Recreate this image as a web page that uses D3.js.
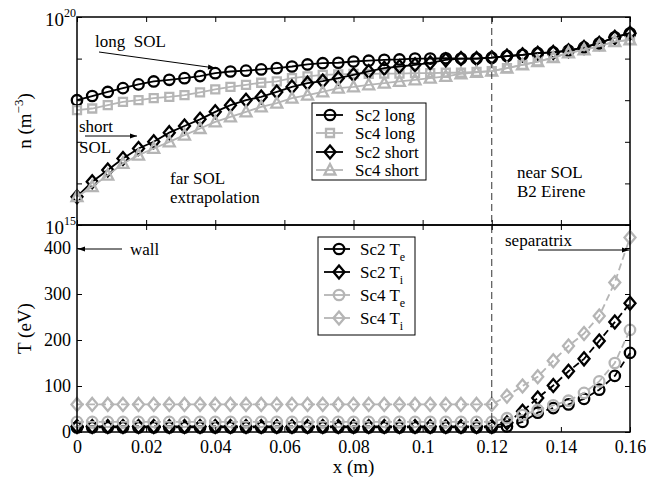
<!DOCTYPE html>
<html>
<head>
<meta charset="utf-8">
<script src="https://cdn.jsdelivr.net/npm/d3@7"></script>
<style>
  html, body { margin: 0; padding: 0; background: #fff; }
  svg { display: block; font-family: "Liberation Serif", "Times New Roman", serif; }
</style>
</head>
<body>
<div id="chart"></div>
<script>
// ── data ──────────────────────────────────────────────────────────────────
const xPos = [0, 0.0044, 0.0089, 0.0133, 0.0178, 0.0222, 0.0267, 0.0311, 0.0356, 0.04,
  0.0444, 0.0489, 0.0533, 0.0578, 0.0622, 0.0667, 0.0711, 0.0756, 0.08, 0.0844,
  0.0889, 0.0933, 0.0978, 0.1022, 0.1067, 0.1111, 0.1156, 0.12, 0.1244, 0.1289,
  0.1333, 0.1378, 0.1422, 0.1467, 0.1511, 0.1556, 0.16];

// density n (m^-3)
const sc2Long = [1.0e18, 1.26e18, 1.58e18, 1.95e18, 2.4e18, 2.82e18, 3.09e18, 3.39e18, 3.8e18, 4.47e18,
  4.9e18, 5.13e18, 5.5e18, 5.89e18, 6.46e18, 7.24e18, 7.76e18, 7.94e18, 8.51e18, 8.91e18,
  9.33e18, 9.55e18, 1.0e19, 1.0e19, 1.02e19, 1.0e19, 1.0e19, 1.05e19, 1.15e19, 1.23e19,
  1.35e19, 1.41e19, 1.55e19, 1.86e19, 2.34e19, 3.24e19, 4.07e19];
const sc4Long = [5.75e17, 6.31e17, 7.59e17, 9.12e17, 1.0e18, 1.12e18, 1.2e18, 1.32e18, 1.55e18, 1.82e18,
  2.09e18, 2.34e18, 2.63e18, 2.82e18, 3.39e18, 3.72e18, 4.07e18, 4.17e18, 4.27e18, 4.27e18,
  4.37e18, 4.37e18, 4.47e18, 4.47e18, 4.57e18, 4.57e18, 4.79e18, 5.01e18, 5.89e18, 7.08e18,
  8.51e18, 1.05e19, 1.38e19, 1.62e19, 2.0e19, 2.57e19, 2.82e19];
const sc2Short = [4.79e15, 1.1e16, 2.09e16, 3.98e16, 6.92e16, 1.0e17, 1.66e17, 2.4e17, 3.47e17, 5.25e17,
  7.59e17, 1.0e18, 1.2e18, 1.58e18, 2.09e18, 2.57e18, 2.88e18, 3.39e18, 4.07e18, 4.9e18,
  5.89e18, 6.46e18, 7.08e18, 7.94e18, 9.33e18, 1.0e19, 1.0e19, 1.05e19, 1.15e19, 1.23e19,
  1.35e19, 1.41e19, 1.55e19, 1.86e19, 2.34e19, 3.24e19, 4.07e19];
const sc4Short = [4.79e15, 8.32e15, 1.58e16, 3.02e16, 4.79e16, 6.92e16, 1.0e17, 1.45e17, 2.09e17, 3.02e17,
  3.98e17, 5.25e17, 6.92e17, 8.51e17, 1.12e18, 1.32e18, 1.58e18, 1.95e18, 2.09e18, 2.34e18,
  2.57e18, 2.82e18, 3.09e18, 3.39e18, 3.72e18, 4.27e18, 4.68e18, 5.01e18, 5.89e18, 7.08e18,
  8.51e18, 1.05e19, 1.38e19, 1.62e19, 2.0e19, 2.57e19, 2.82e19];

// temperature T (eV)
const sc2Te = [10, 10, 10, 10, 10, 10, 10, 10, 10, 10, 10, 10, 10, 10, 10, 10, 10, 10, 10, 10,
  10, 10, 10, 10, 10, 10, 10, 10, 12, 22, 42, 52, 60, 72, 92, 122, 172];
const sc2Ti = [12, 12, 12, 12, 12, 12, 12, 12, 12, 12, 12, 12, 12, 12, 12, 12, 12, 12, 12, 12,
  12, 12, 12, 12, 12, 12, 12, 12, 20, 45, 74, 101, 132, 159, 198, 239, 280];
const sc4Te = [22, 22, 22, 22, 22, 22, 22, 22, 22, 22, 22, 22, 22, 22, 22, 22, 22, 22, 22, 22,
  22, 22, 22, 22, 22, 22, 22, 22, 30, 37, 48, 58, 68, 85, 110, 150, 222];
const sc4Ti = [60, 60, 60, 60, 60, 60, 60, 60, 60, 60, 60, 60, 60, 60, 60, 60, 60, 60, 60, 60,
  60, 60, 60, 60, 60, 60, 60, 60, 78, 100, 120, 155, 187, 214, 252, 325, 423];

const xTicks = [0, 0.02, 0.04, 0.06, 0.08, 0.1, 0.12, 0.14, 0.16];
const xTickLabels = ['0', '0.02', '0.04', '0.06', '0.08', '0.1', '0.12', '0.14', '0.16'];
const nTicks = [1e15, 1e16, 1e17, 1e18, 1e19, 1e20];
const tTicks = [0, 100, 200, 300, 400];
const separatrixX = 0.12;

// ── setup ─────────────────────────────────────────────────────────────────
const W = 646, H = 481;
const BLACK = '#000', GRAY = '#b5b5b5';
const L = 77, R = 630;
const topY0 = 17, topY1 = 225, botY0 = 225, botY1 = 432;

const svg = d3.select('#chart').append('svg').attr('width', W).attr('height', H);

const x  = d3.scaleLinear().domain([0, 0.16]).range([L, R]);
const yN = d3.scaleLog().domain([1e15, 1e20]).range([topY1, topY0]);
const yT = d3.scaleLinear().domain([0, 450]).range([botY1, botY0]);

// marker shapes
function marker(sel, type) {
  if (type === 'circle') return sel.append('circle').attr('r', 5.2);
  const p = {
    square:   'M-4,-4H4V4H-4Z',
    diamond:  'M0,-6.5L5.5,0L0,6.5L-5.5,0Z',
    triangle: 'M0,-6L5.5,4.5H-5.5Z'
  }[type];
  return sel.append('path').attr('d', p);
}

function drawSeries(g, ys, yScale, color, type, dash) {
  const line = d3.line().x((d, i) => x(xPos[i])).y(d => yScale(d));
  g.append('path')
    .datum(ys)
    .attr('d', line)
    .attr('fill', 'none')
    .attr('stroke', color)
    .attr('stroke-width', 1.8)
    .attr('stroke-dasharray', dash || null);
  ys.forEach((v, i) => {
    const m = g.append('g').attr('transform', `translate(${x(xPos[i])},${yScale(v)})`);
    marker(m, type).attr('fill', 'none').attr('stroke', color).attr('stroke-width', 2.3);
  });
}

function frame(y0, y1) {
  svg.append('rect')
    .attr('x', L).attr('y', y0).attr('width', R - L).attr('height', y1 - y0)
    .attr('fill', 'none').attr('stroke', BLACK).attr('stroke-width', 1.5);
}

function axes(yScale, yTicks, y0, y1, showX) {
  const axB = svg.append('g').attr('transform', `translate(0,${y1})`)
    .call(d3.axisBottom(x).tickValues(xTicks).tickSize(-5).tickPadding(8)
      .tickFormat((d, i) => showX ? xTickLabels[i] : ''));
  const axT = svg.append('g').attr('transform', `translate(0,${y0})`)
    .call(d3.axisTop(x).tickValues(xTicks).tickSize(-5).tickFormat(''));
  const axL = svg.append('g').attr('transform', `translate(${L},0)`)
    .call(d3.axisLeft(yScale).tickValues(yTicks).tickSize(-5).tickPadding(6)
      .tickFormat(d => showX ? d : ''));
  const axR = svg.append('g').attr('transform', `translate(${R},0)`)
    .call(d3.axisRight(yScale).tickValues(yTicks).tickSize(-5).tickFormat(''));
  [axB, axT, axL, axR].forEach(a => {
    a.select('.domain').remove();
    a.selectAll('line').attr('stroke', BLACK).attr('stroke-width', 1);
    a.selectAll('text').attr('font-family', 'Liberation Serif').attr('font-size', 18).attr('fill', BLACK);
  });
  axB.selectAll('text').attr('dy', '0.71em');
}

// arrowhead
svg.append('defs').append('marker')
  .attr('id', 'arr').attr('viewBox', '0 0 10 10').attr('refX', 10).attr('refY', 5)
  .attr('markerWidth', 9).attr('markerHeight', 7).attr('markerUnits', 'userSpaceOnUse')
  .attr('orient', 'auto')
  .append('path').attr('d', 'M0,1.5L10,5L0,8.5Z').attr('fill', BLACK);

function arrow(x1, y1, x2, y2) {
  svg.append('line').attr('x1', x1).attr('y1', y1).attr('x2', x2).attr('y2', y2)
    .attr('stroke', BLACK).attr('stroke-width', 1).attr('marker-end', 'url(#arr)');
}

function label(tx, ty, str, size) {
  return svg.append('text').attr('x', tx).attr('y', ty)
    .attr('font-size', size || 17).attr('fill', BLACK).text(str);
}

// ══════════════════════════════════════════════════════════════════════════
//  top panel: density
// ══════════════════════════════════════════════════════════════════════════
const gTop = svg.append('g');
drawSeries(gTop, sc2Long, yN, BLACK, 'circle');
drawSeries(gTop, sc4Long, yN, GRAY, 'square');
drawSeries(gTop, sc2Short, yN, BLACK, 'diamond');
drawSeries(gTop, sc4Short, yN, GRAY, 'triangle');

// ══════════════════════════════════════════════════════════════════════════
//  bottom panel: temperature
// ══════════════════════════════════════════════════════════════════════════
const gBot = svg.append('g');
drawSeries(gBot, sc2Te, yT, BLACK, 'circle', '7,4');
drawSeries(gBot, sc2Ti, yT, BLACK, 'diamond', '7,4');
drawSeries(gBot, sc4Te, yT, GRAY, 'circle', '7,4');
drawSeries(gBot, sc4Ti, yT, GRAY, 'diamond', '7,4');

// separatrix line across both panels
svg.append('line')
  .attr('x1', x(separatrixX)).attr('x2', x(separatrixX))
  .attr('y1', topY0).attr('y2', botY1)
  .attr('stroke', '#333').attr('stroke-width', 1).attr('stroke-dasharray', '7,4');

frame(topY0, topY1);
frame(botY0, botY1);
axes(yN, nTicks, topY0, topY1, false);
axes(yT, tTicks, botY0, botY1, true);

// log labels 10^20, 10^15
[[1e20, '20'], [1e15, '15']].forEach(([v, e]) => {
  const t = svg.append('text').attr('x', 76).attr('y', yN(v) + 9)
    .attr('text-anchor', 'end').attr('font-size', 19).attr('fill', BLACK);
  t.append('tspan').text('10');
  t.append('tspan').attr('font-size', 12).attr('dy', -9).text(e);
});

// axis titles
const yl1 = svg.append('text').attr('transform', `translate(31,${(topY0 + topY1) / 2}) rotate(-90)`)
  .attr('text-anchor', 'middle').attr('font-size', 19).attr('fill', BLACK);
yl1.append('tspan').text('n (m');
yl1.append('tspan').attr('font-size', 13).attr('dy', -8).text('\u22123');
yl1.append('tspan').attr('dy', 8).text(')');

svg.append('text').attr('transform', `translate(31,${(botY0 + botY1) / 2}) rotate(-90)`)
  .attr('text-anchor', 'middle').attr('font-size', 19).attr('fill', BLACK).text('T (eV)');

svg.append('text').attr('x', (L + R) / 2).attr('y', 473)
  .attr('text-anchor', 'middle').attr('font-size', 19).attr('fill', BLACK).text('x (m)');

// annotations
label(95, 47, 'long\u00a0\u00a0SOL');
arrow(99, 52, 215, 68);
label(79, 132, 'short');
label(79, 153, 'SOL');
arrow(85, 136, 137, 136);
label(170, 184, 'far SOL');
label(170, 203, 'extrapolation');
label(517, 178, 'near SOL');
label(517, 197, 'B2 Eirene');
label(130, 255, 'wall');
arrow(122, 249, 78, 249);
label(505, 246, 'separatrix');
arrow(538, 250, 629, 250);

// ── legends ───────────────────────────────────────────────────────────────
function legend(bx, by, bw, bh, items, lx0, lx1, mx, tx) {
  svg.append('rect').attr('x', bx).attr('y', by).attr('width', bw).attr('height', bh)
    .attr('fill', '#fff').attr('stroke', BLACK).attr('stroke-width', 1);
  items.forEach(it => {
    svg.append('line').attr('x1', lx0).attr('x2', lx1).attr('y1', it.y).attr('y2', it.y)
      .attr('stroke', it.color).attr('stroke-width', 1.8);
    const m = svg.append('g').attr('transform', `translate(${mx},${it.y})`);
    marker(m, it.type).attr('fill', 'none').attr('stroke', it.color).attr('stroke-width', 2.3);
    const t = svg.append('text').attr('x', tx).attr('y', it.y + 6)
      .attr('font-size', 17).attr('fill', BLACK);
    t.append('tspan').text(it.text);
    if (it.sub) t.append('tspan').attr('font-size', 12).attr('dy', 6).text(it.sub);
  });
}

legend(312, 103, 114, 77, [
  { y: 115, color: BLACK, type: 'circle',   text: 'Sc2 long' },
  { y: 133, color: GRAY,  type: 'square',   text: 'Sc4 long' },
  { y: 152, color: BLACK, type: 'diamond',  text: 'Sc2 short' },
  { y: 170, color: GRAY,  type: 'triangle', text: 'Sc4 short' }
], 316, 343, 330, 355);

legend(318, 237, 97, 98, [
  { y: 249, color: BLACK, type: 'circle',  text: 'Sc2 T', sub: 'e' },
  { y: 272, color: BLACK, type: 'diamond', text: 'Sc2 T', sub: 'i' },
  { y: 295, color: GRAY,  type: 'circle',  text: 'Sc4 T', sub: 'e' },
  { y: 318, color: GRAY,  type: 'diamond', text: 'Sc4 T', sub: 'i' }
], 324, 350, 339, 360);
</script>
</body>
</html>
